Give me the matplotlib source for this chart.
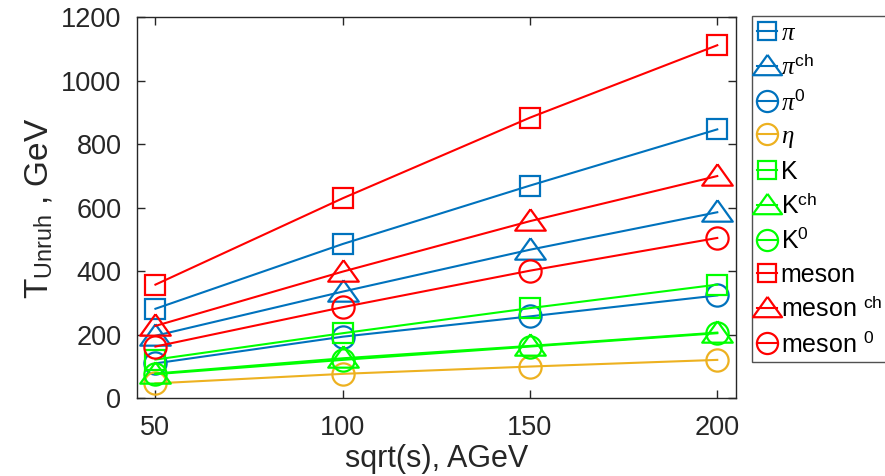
import matplotlib
matplotlib.use("Agg")
import matplotlib.pyplot as plt
from matplotlib.lines import Line2D

plt.rcParams['font.family'] = ['Liberation Sans', 'DejaVu Sans']
plt.rcParams['mathtext.fontset'] = 'custom'
plt.rcParams['mathtext.rm'] = 'Liberation Sans'
plt.rcParams['mathtext.it'] = 'Liberation Serif:italic'
plt.rcParams['mathtext.bf'] = 'Liberation Sans:bold'

sqrt_s = [50, 100, 150, 200]

pi_all = [282, 486, 670, 847]
pi_ch = [197, 336, 468, 586]
pi_0 = [110, 194, 258, 324]
eta = [47, 77, 100, 121]
K_all = [122, 205, 284, 358]
K_ch = [78, 126, 165, 207]
K_0 = [76, 121, 163, 205]
meson_all = [358, 630, 884, 1112]
meson_ch = [228, 399, 558, 700]
meson_0 = [163, 287, 402, 505]

labels = [r'$\pi$', r'$\pi^{\rm ch}$', r'$\pi^0$', r'$\eta$', 'K', r'K$^{\rm ch}$',
          r'K$^0$', 'meson', r'meson $^{\rm ch}$', r'meson $^0$']

BLUE = '#0072BD'
ORANGE = '#EDB120'
GREEN = '#00FF00'
RED = '#FF0000'

tri = [(0, 1.0), (-1.25, -0.75), (1.25, -0.75), (0, 1.0)]

series = [
    (pi_all, BLUE, 's', 14),
    (pi_ch, BLUE, tri, 22),
    (pi_0, BLUE, 'o', 16),
    (eta, ORANGE, 'o', 16),
    (K_all, GREEN, 's', 14),
    (K_ch, GREEN, tri, 22),
    (K_0, GREEN, 'o', 16),
    (meson_all, RED, 's', 14),
    (meson_ch, RED, tri, 22),
    (meson_0, RED, 'o', 16),
]

fig = plt.figure(figsize=(8.85, 4.76), dpi=100)
ax = fig.add_axes([136.7 / 885, (476 - 398.3) / 476, (736 - 136.7) / 885, (398.3 - 17.3) / 476])

handles = []
for (vals, col, mk, ms), lab in zip(series, labels):
    ax.plot(sqrt_s, vals, color=col, lw=1.5, marker=mk, ms=ms, mfc='none',
            mec=col, mew=1.6)
    handles.append(Line2D([], [], color=col, lw=1.5, marker=mk, ms=ms * 0.95,
                          mfc='none', mec=col, mew=1.6))

ax.set_xlim(45, 205)
ax.set_ylim(0, 1200)
ax.set_xticks([50, 100, 150, 200])
ax.set_yticks([0, 200, 400, 600, 800, 1000, 1200])
ax.tick_params(direction='in', length=6, width=1, top=True, right=True,
               labelsize=19.5, colors='#262626')
ax.tick_params(axis='x', pad=12)
ax.tick_params(axis='y', pad=11)
for s in ax.spines.values():
    s.set_color('#262626')
    s.set_linewidth(1.0)
ax.set_xlabel('sqrt(s), AGeV', fontsize=22, color='#262626', labelpad=2)
ax.set_ylabel(r'T$_{\mathrm{Unruh}}$ , GeV', fontsize=24, color='#262626', labelpad=4)

leg = fig.legend(handles, labels, loc='upper left',
                 bbox_to_anchor=(752 / 885, 1 - 16 / 476),
                 fontsize=18, frameon=True, fancybox=False, edgecolor='#262626',
                 handlelength=0.8, handletextpad=0.15, labelspacing=0.38,
                 borderpad=0.2, borderaxespad=0.0)
leg.get_frame().set_linewidth(1.0)

fig.savefig('out.png', dpi=100)
